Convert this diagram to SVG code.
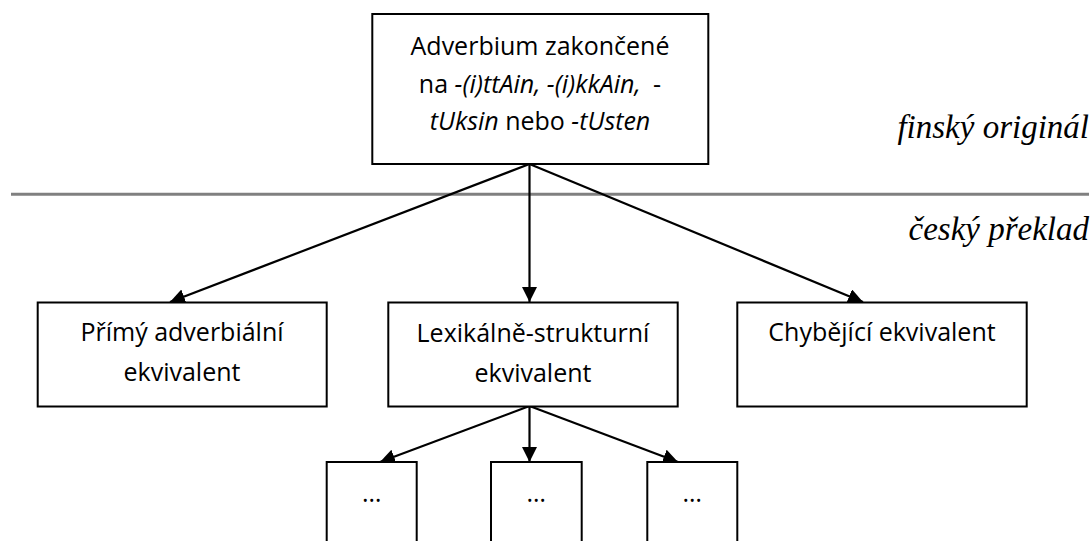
<svg xmlns="http://www.w3.org/2000/svg" width="1091" height="541" viewBox="0 0 1091 541">
<style>
.box{fill:#fff;stroke:#000;stroke-width:2}
.t{font-family:"Open Sans","Noto Sans","DejaVu Sans",sans-serif;font-size:25px;fill:#000;text-anchor:middle}
.i{font-style:italic}
.lab{font-family:"Liberation Serif","Times New Roman",serif;font-style:italic;font-size:33px;fill:#000;text-anchor:end}
.c{stroke:#000;stroke-width:2.2;fill:none;marker-end:url(#ah)}
</style>
<defs>
<marker id="ah" markerUnits="userSpaceOnUse" markerWidth="16" markerHeight="16" refX="15" refY="7.5" orient="auto">
<path d="M0,0 L15,7.5 L0,15 z" fill="#000"/>
</marker>
</defs>
<rect width="1091" height="541" fill="#fff"/>
<g id="separator">
<line x1="11" y1="194.3" x2="1089" y2="194.3" stroke="#808080" stroke-width="3"/>
<text class="lab" x="1089" y="138">finský originál</text>
<text class="lab" x="1089" y="240">český překlad</text>
</g>
<g id="connectors">
<line class="c" x1="529.5" y1="164" x2="170" y2="302"/>
<line class="c" x1="529.5" y1="164" x2="529.5" y2="302"/>
<line class="c" x1="529.5" y1="164" x2="863" y2="302"/>
<line class="c" x1="529.5" y1="406" x2="380" y2="462"/>
<line class="c" x1="529.5" y1="406" x2="529.5" y2="462"/>
<line class="c" x1="529.5" y1="406" x2="678" y2="462"/>
</g>
<g id="root">
<rect class="box" x="372.3" y="14" width="336" height="150"/>
<text class="t" x="540" y="55">Adverbium zakončené</text>
<text class="t" x="540" y="92.5">na <tspan class="i">-(i)ttAin, -(i)kkAin,</tspan>  <tspan dx="6">-</tspan></text>
<text class="t" x="540" y="130"><tspan class="i">tUksin</tspan> nebo <tspan class="i">-tUsten</tspan></text>
</g>
<g id="primy">
<rect class="box" x="37.7" y="302.5" width="289" height="104"/>
<text class="t" x="182" y="340.7">Přímý adverbiální</text>
<text class="t" x="182" y="380.5">ekvivalent</text>
</g>
<g id="lexikalne">
<rect class="box" x="388.3" y="302.5" width="289.4" height="104"/>
<text class="t" x="533" y="341.5">Lexikálně-strukturní</text>
<text class="t" x="533" y="381.5">ekvivalent</text>
</g>
<g id="chybejici">
<rect class="box" x="737.3" y="302.5" width="289.4" height="104"/>
<text class="t" x="882" y="340.7">Chybějící ekvivalent</text>
</g>
<g id="sub1">
<rect class="box" x="326.7" y="462" width="90" height="100"/>
<text class="t" x="371.7" y="501.7">…</text>
</g>
<g id="sub2">
<rect class="box" x="491" y="462" width="90.7" height="100"/>
<text class="t" x="536.3" y="501.7">…</text>
</g>
<g id="sub3">
<rect class="box" x="647.3" y="462" width="90" height="100"/>
<text class="t" x="692.3" y="501.7">…</text>
</g>
</svg>
